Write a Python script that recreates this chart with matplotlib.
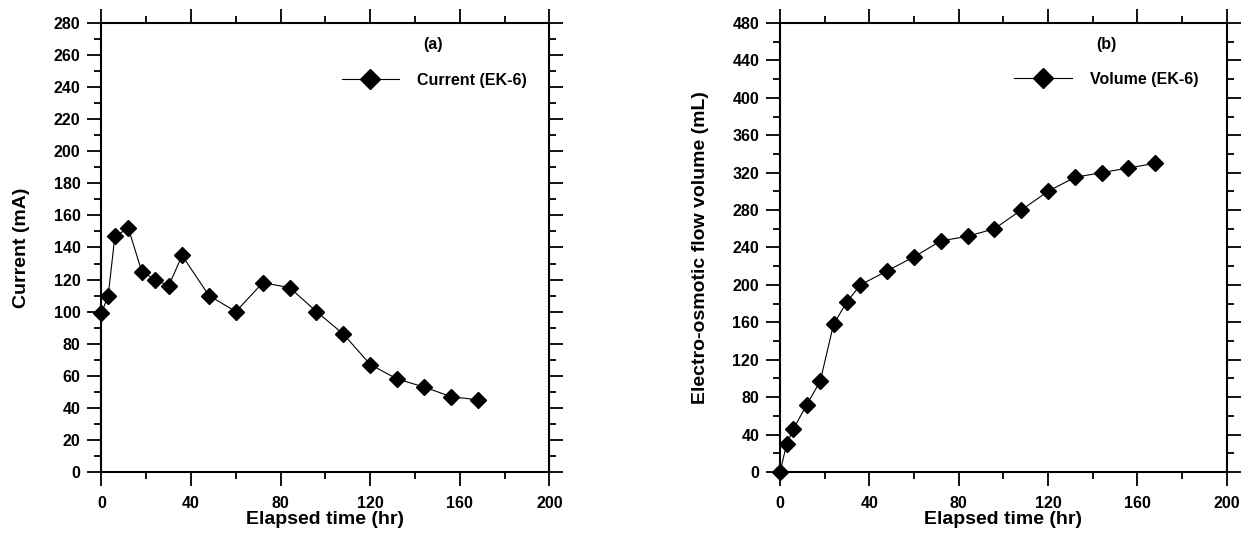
import matplotlib

matplotlib.use("Agg")
import matplotlib.pyplot as plt
from matplotlib.ticker import MultipleLocator

plt.rcParams["font.family"] = ["Liberation Sans", "DejaVu Sans"]
plt.rcParams["font.weight"] = "bold"

# elapsed time of each reading (hr)
time_hr = [0, 3, 6, 12, 18, 24, 30, 36, 48, 60, 72, 84, 96, 108, 120, 132, 144, 156, 168]
# panel (a): current, mA
current_ma = [99, 110, 147, 152, 125, 120, 116, 135, 110, 100, 118, 115, 100, 86, 67, 58, 53, 47, 45]
# panel (b): electro-osmotic flow volume, mL
volume_ml = [0, 30, 46, 72, 97, 158, 182, 200, 215, 230, 247, 252, 260, 280, 300, 315, 320, 325, 330]


def style_axes(ax, ymax, ymajor, yminor):
    ax.set_xlim(0, 200)
    ax.set_ylim(0, ymax)
    ax.xaxis.set_major_locator(MultipleLocator(40))
    ax.xaxis.set_minor_locator(MultipleLocator(20))
    ax.yaxis.set_major_locator(MultipleLocator(ymajor))
    ax.yaxis.set_minor_locator(MultipleLocator(yminor))
    ax.tick_params(which="both", direction="out", top=True, right=True, width=1.3)
    ax.tick_params(which="major", length=10, labelsize=11.5)
    ax.tick_params(which="minor", length=5)
    ax.tick_params(axis="x", which="major", pad=7)
    ax.tick_params(axis="y", which="major", pad=5)
    for spine in ax.spines.values():
        spine.set_linewidth(1.5)
    for lab in ax.get_xticklabels() + ax.get_yticklabels():
        lab.set_fontweight("bold")
    ax.set_xlabel("Elapsed time (hr)", fontsize=14, fontweight="bold", labelpad=0)


fig = plt.figure(figsize=(12.51, 5.42), dpi=100)
ax_a = fig.add_axes([0.0811, 0.1292, 0.3581, 0.8284])
ax_b = fig.add_axes([0.6235, 0.1292, 0.3571, 0.8284])

line_kw = dict(color="black", linewidth=0.8, marker="D", markersize=7.8,
               markerfacecolor="black", markeredgecolor="black", clip_on=False, zorder=5)

ax_a.plot(time_hr, current_ma, label="Current (EK-6)", **line_kw)
style_axes(ax_a, 280, 20, 10)
ax_a.set_ylabel("Current (mA)", fontsize=14, fontweight="bold", labelpad=17)
ax_a.text(0.739, 0.951, "(a)", transform=ax_a.transAxes, ha="center", va="center",
          fontsize=11.5, fontweight="bold")
ax_a.legend(loc="center left", bbox_to_anchor=(0.536, 0.873), frameon=False,
            borderaxespad=0, borderpad=0, handlelength=3.6, handletextpad=1.15,
            markerscale=1.25, prop={"size": 11.5, "weight": "bold"})

ax_b.plot(time_hr, volume_ml, label="Volume (EK-6)", **line_kw)
style_axes(ax_b, 480, 40, 20)
ax_b.set_ylabel("Electro-osmotic flow volume (mL)", fontsize=14, fontweight="bold", labelpad=17)
ax_b.text(0.730, 0.951, "(b)", transform=ax_b.transAxes, ha="center", va="center",
          fontsize=11.5, fontweight="bold")
ax_b.legend(loc="center left", bbox_to_anchor=(0.524, 0.874), frameon=False,
            borderaxespad=0, borderpad=0, handlelength=3.6, handletextpad=1.15,
            markerscale=1.25, prop={"size": 11.5, "weight": "bold"})

fig.savefig("out.png", dpi=100)
plt.close(fig)
